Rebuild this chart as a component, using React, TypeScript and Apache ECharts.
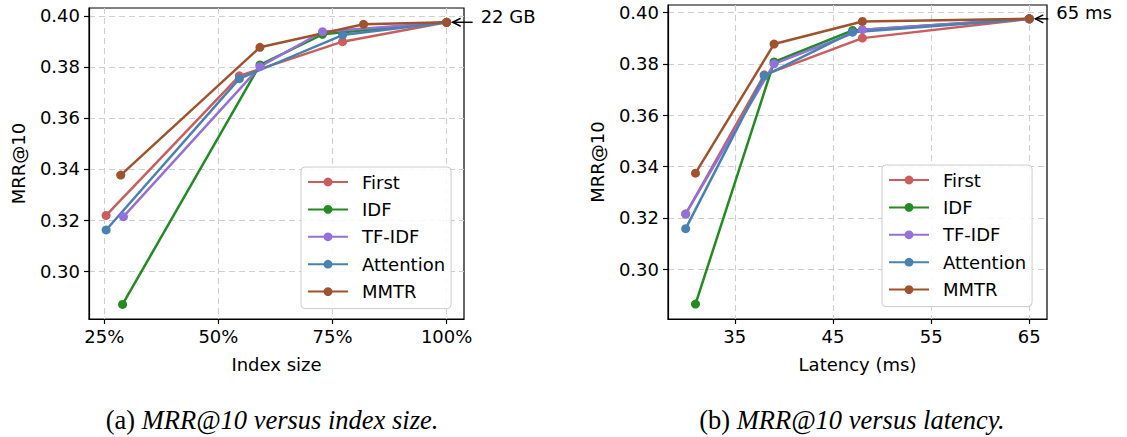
import React, { useEffect, useRef } from 'react';
import * as echarts from 'echarts';

const seriesNames = ['First', 'IDF', 'TF-IDF', 'Attention', 'MMTR'];
const seriesColors = ['#CD5C5C', '#228B22', '#9370DB', '#4682B4', '#A0522D'];

// (a) MRR@10 versus index size (%)
const firstSizeX = [25.4, 54.6, 77.2, 100];
const firstSizeY = [0.3218, 0.3765, 0.3899, 0.3975];
const idfSizeX = [29.0, 59.1, 72.8, 100];
const idfSizeY = [0.2869, 0.3808, 0.3928, 0.3975];
const tfidfSizeX = [29.2, 59.1, 72.8, 100];
const tfidfSizeY = [0.3213, 0.3801, 0.3938, 0.3975];
const attSizeX = [25.4, 54.6, 77.2, 100];
const attSizeY = [0.3161, 0.3754, 0.3925, 0.3975];
const mmtrSizeX = [28.6, 59.1, 81.8, 100];
const mmtrSizeY = [0.3376, 0.3877, 0.3967, 0.3975];

// (b) MRR@10 versus latency (ms)
const firstLatX = [30.0, 38.0, 48.0, 65];
const firstLatY = [0.3215, 0.3757, 0.3900, 0.3975];
const idfLatX = [31.0, 39.0, 47.0, 65];
const idfLatY = [0.2864, 0.3807, 0.3930, 0.3975];
const tfidfLatX = [30.0, 39.0, 48.0, 65];
const tfidfLatY = [0.3215, 0.3800, 0.3933, 0.3975];
const attLatX = [30.0, 38.0, 47.0, 65];
const attLatY = [0.3158, 0.3753, 0.3923, 0.3975];
const mmtrLatX = [31.0, 39.0, 48.0, 65];
const mmtrLatY = [0.3374, 0.3877, 0.3965, 0.3975];

const sizeTicks = [25, 50, 75, 100];
const latencyTicks = [35, 45, 55, 65];
const mrrTicks = [0.3, 0.32, 0.34, 0.36, 0.38, 0.4];

const sizeAnnotation = '22 GB';
const latencyAnnotation = '65 ms';
const captionA = ['(a) ', 'MRR@10 versus index size.'];
const captionB = ['(b) ', 'MRR@10 versus latency.'];

const FONT = 'DejaVu Sans';

const zip = (xs: number[], ys: number[]) => xs.map((x, i) => [x, ys[i]]);

const sizeSets = [
  [firstSizeX, firstSizeY],
  [idfSizeX, idfSizeY],
  [tfidfSizeX, tfidfSizeY],
  [attSizeX, attSizeY],
  [mmtrSizeX, mmtrSizeY],
];
const latSets = [
  [firstLatX, firstLatY],
  [idfLatX, idfLatY],
  [tfidfLatX, tfidfLatY],
  [attLatX, attLatY],
  [mmtrLatX, mmtrLatY],
];

function makeXAxis(gridIndex: number, min: number, max: number, ticks: number[], fmt: (v: number) => string, name: string) {
  return {
    type: 'value',
    gridIndex,
    min,
    max,
    name,
    nameLocation: 'middle',
    nameGap: 36,
    nameTextStyle: { fontFamily: FONT, fontSize: 18, color: '#000' },
    axisLine: { show: true, onZero: false, lineStyle: { color: '#000', width: 1.2 } },
    axisTick: { show: true, length: 5, customValues: ticks, lineStyle: { color: '#000', width: 1.2 } },
    axisLabel: { customValues: ticks, formatter: fmt, fontFamily: FONT, fontSize: 18, color: '#000', margin: 8 },
    splitLine: { show: true, lineStyle: { color: '#cfcfcf', width: 1.1, type: [6, 4] } },
  };
}

function makeYAxis(gridIndex: number, min: number, max: number) {
  return {
    type: 'value',
    gridIndex,
    min,
    max,
    name: 'MRR@10',
    nameLocation: 'middle',
    nameGap: 62,
    nameTextStyle: { fontFamily: FONT, fontSize: 18, color: '#000' },
    axisLine: { show: true, onZero: false, lineStyle: { color: '#000', width: 1.2 } },
    axisTick: { show: true, length: 5, customValues: mrrTicks, lineStyle: { color: '#000', width: 1.2 } },
    axisLabel: {
      customValues: mrrTicks,
      formatter: (v: number) => v.toFixed(2),
      fontFamily: FONT,
      fontSize: 18,
      color: '#000',
      margin: 9,
    },
    splitLine: { show: true, lineStyle: { color: '#cfcfcf', width: 1.1, type: [6, 4] } },
  };
}

function makeLegend(left: number, top: number) {
  return {
    orient: 'vertical',
    left,
    top,
    data: seriesNames,
    itemWidth: 40,
    itemHeight: 11,
    itemGap: 9.4,
    padding: [6, 6, 8, 6],
    backgroundColor: 'rgba(255,255,255,0.85)',
    borderColor: '#cccccc',
    borderWidth: 1,
    borderRadius: 4,
    textStyle: { fontFamily: FONT, fontSize: 18, color: '#000', lineHeight: 18, padding: [0, 0, 0, 9] },
  };
}

export default function App() {
  const ref = useRef<HTMLDivElement>(null);
  useEffect(() => {
    if (!ref.current) return;
    const chart = echarts.init(ref.current, undefined, { renderer: 'svg' });
    const series: any[] = [];
    [sizeSets, latSets].forEach((sets, g) => {
      sets.forEach((s, i) => {
        series.push({
          type: 'line',
          name: seriesNames[i],
          xAxisIndex: g,
          yAxisIndex: g,
          data: zip(s[0] as number[], s[1] as number[]),
          symbol: 'circle',
          symbolSize: 9,
          showSymbol: true,
          color: seriesColors[i],
          lineStyle: { color: seriesColors[i], width: 2.5 },
          itemStyle: { color: seriesColors[i] },
          emphasis: { disabled: true },
          clip: false,
        });
      });
    });
    chart.setOption({
      animation: false,
      grid: [
        { left: 89, top: 8, width: 375, height: 311, show: true, borderColor: '#000', borderWidth: 1.2, backgroundColor: 'transparent' },
        { left: 668, top: 5, width: 379, height: 314, show: true, borderColor: '#000', borderWidth: 1.2, backgroundColor: 'transparent' },
      ],
      xAxis: [
        makeXAxis(0, 21.65, 103.8, sizeTicks, (v: number) => `${v}%`, 'Index size'),
        makeXAxis(1, 28.2, 66.8, latencyTicks, (v: number) => `${v}`, 'Latency (ms)'),
      ],
      yAxis: [makeYAxis(0, 0.2812, 0.4031), makeYAxis(1, 0.2806, 0.4029)],
      legend: [makeLegend(301, 167), makeLegend(882, 165)],
      series,
    });

    const pA = chart.convertToPixel({ gridIndex: 0 }, [mmtrSizeX[3], mmtrSizeY[3]]) as number[];
    const pB = chart.convertToPixel({ gridIndex: 1 }, [mmtrLatX[3], mmtrLatY[3]]) as number[];
    const arrow = (p: number[], len: number, label: string) => {
      const tipX = p[0] + 6;
      const y = p[1];
      return [
        { type: 'line', shape: { x1: tipX, y1: y, x2: tipX + len, y2: y }, style: { stroke: '#000', lineWidth: 1.5 }, z: 100 },
        { type: 'polyline', shape: { points: [[tipX + 8, y - 4], [tipX, y], [tipX + 8, y + 4]] }, style: { stroke: '#000', lineWidth: 1.5, fill: null }, z: 100 },
        { type: 'text', x: tipX + len + 8, y: y - 6, style: { text: label, fontFamily: FONT, fontSize: 18, fill: '#000', verticalAlign: 'middle', align: 'left' }, z: 100 },
      ];
    };
    const caption = (cx: number, parts: string[]) => ({
      type: 'text',
      x: cx,
      y: 420,
      style: {
        text: `{n|${parts[0]}}{i|${parts[1]}}`,
        align: 'center',
        verticalAlign: 'middle',
        rich: {
          n: { fontFamily: 'Liberation Serif', fontSize: 26.5, fill: '#000' },
          i: { fontFamily: 'Liberation Serif', fontSize: 26.5, fontStyle: 'italic', fill: '#000' },
        },
      },
    });
    chart.setOption({
      graphic: [
        ...arrow(pA, 20, sizeAnnotation),
        ...arrow(pB, 13, latencyAnnotation),
        caption(272, captionA),
        caption(852, captionB),
      ],
    });
    return () => chart.dispose();
  }, []);
  return <div ref={ref} style={{ position: 'absolute', left: 0, top: 0, width: 1127, height: 437 }} />;
}
